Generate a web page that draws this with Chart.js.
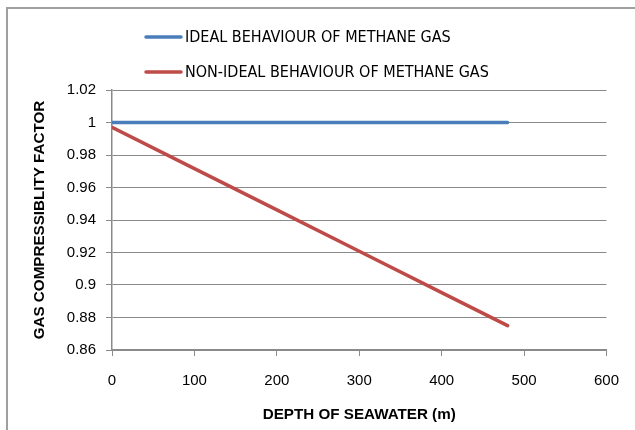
<!DOCTYPE html>
<html>
<head>
<meta charset="utf-8">
<script src="https://cdn.jsdelivr.net/npm/chart.js@4/dist/chart.umd.min.js"></script>
<style>
  html, body { margin: 0; padding: 0; background: #fff; }
  #wrap { position: relative; width: 635px; height: 430px; }
</style>
</head>
<body>
<div id="wrap"><canvas id="c" width="635" height="430"></canvas></div>
<script>
// Depth of seawater (m) and the compressibility factor of methane at each depth
const depth = [0, 100, 200, 300, 400, 480];
const idealZ = [1, 1, 1, 1, 1, 1];
const nonIdealZ = [0.997, 0.9716, 0.9462, 0.9208, 0.8953, 0.875];

const seriesNames = ['IDEAL BEHAVIOUR OF METHANE GAS', 'NON-IDEAL BEHAVIOUR OF METHANE GAS'];
const seriesColors = ['#4A7EBB', '#BE4B48'];

const yTicks = [0.86, 0.88, 0.9, 0.92, 0.94, 0.96, 0.98, 1, 1.02];
const xTicks = [0, 100, 200, 300, 400, 500, 600];

const xTitle = 'DEPTH OF SEAWATER (m)';
const yTitle = 'GAS COMPRESSIBLITY FACTOR';

const tickFont = { family: '"Liberation Sans", Arial, sans-serif', size: 15 };
const titleFont = { family: '"Liberation Sans", Arial, sans-serif', size: 15.2, weight: 'bold' };
const gridGrey = '#8a8a8a';

const toPoints = (xs, ys) => xs.map((x, i) => ({ x: x, y: ys[i] }));

// Outer frame and the stacked legend at the top
const framePlugin = {
  id: 'frame',
  beforeDraw(chart) {
    const ctx = chart.ctx;
    ctx.save();
    ctx.strokeStyle = '#a0a0a0';
    ctx.lineWidth = 2;
    ctx.strokeRect(7, 8, 800, 600);
    ctx.restore();
  },
  afterDraw(chart) {
    const ctx = chart.ctx;
    ctx.save();
    chart.data.datasets.forEach((ds, i) => {
      const y = 37 + i * 35;
      ctx.strokeStyle = ds.borderColor;
      ctx.lineWidth = 3.5;
      ctx.lineCap = 'round';
      ctx.beginPath();
      ctx.moveTo(146, y);
      ctx.lineTo(181, y);
      ctx.stroke();
      ctx.fillStyle = '#000';
      ctx.font = '16px "Liberation Sans Narrow", "DejaVu Sans Condensed", "Liberation Sans", sans-serif';
      ctx.textBaseline = 'middle';
      ctx.textAlign = 'left';
      ctx.fillText(ds.label, 185, y + 1);
    });
    ctx.restore();
  }
};

new Chart(document.getElementById('c'), {
  type: 'line',
  data: {
    datasets: [
      { label: seriesNames[0], data: toPoints(depth, idealZ), borderColor: seriesColors[0], backgroundColor: seriesColors[0] },
      { label: seriesNames[1], data: toPoints(depth, nonIdealZ), borderColor: seriesColors[1], backgroundColor: seriesColors[1] }
    ]
  },
  options: {
    responsive: false,
    animation: false,
    devicePixelRatio: 1,
    layout: { padding: { top: 90, right: 23, left: 0, bottom: 0 } },
    elements: {
      line: { borderWidth: 3.5, tension: 0, borderCapStyle: 'round', fill: false },
      point: { radius: 0, hoverRadius: 0 }
    },
    plugins: {
      legend: { display: false },
      tooltip: { enabled: false }
    },
    scales: {
      x: {
        type: 'linear',
        min: 0,
        max: 600,
        afterBuildTicks(scale) { scale.ticks = xTicks.map(v => ({ value: v })); },
        afterFit(scale) { scale.height = 80; },
        grid: { display: true, drawOnChartArea: false, drawTicks: true, tickLength: 6, color: gridGrey, lineWidth: 1 },
        border: { display: true, color: gridGrey, width: 1.5 },
        ticks: { font: tickFont, color: '#000', padding: 16, maxRotation: 0, callback: v => String(v) },
        title: { display: true, text: xTitle, font: titleFont, color: '#000', padding: { top: 0, bottom: 6 } }
      },
      y: {
        type: 'linear',
        min: 0.86,
        max: 1.02,
        afterBuildTicks(scale) { scale.ticks = yTicks.map(v => ({ value: v })); },
        afterFit(scale) { scale.width = 112; },
        grid: { display: true, drawOnChartArea: true, drawTicks: true, tickLength: 6, color: gridGrey, lineWidth: 1 },
        border: { display: true, color: gridGrey, width: 1.5 },
        ticks: { font: tickFont, color: '#000', padding: 10, callback: v => String(Number(v.toFixed(2))) },
        title: { display: true, text: yTitle, font: titleFont, color: '#000', padding: { top: 31, bottom: 0 } }
      }
    }
  },
  plugins: [framePlugin]
});
</script>
</body>
</html>
